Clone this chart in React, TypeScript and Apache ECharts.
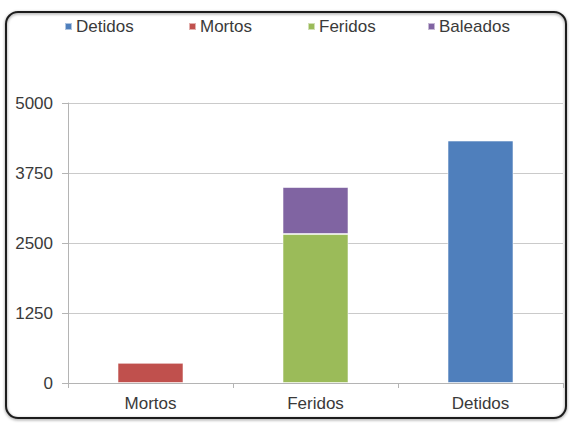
import React, { useEffect, useRef } from "react";
import * as echarts from "echarts";

const categories = ["Mortos", "Feridos", "Detidos"];
const legendNames = ["Detidos", "Mortos", "Feridos", "Baleados"];
const detidos = [null, null, 4330];
const mortos = [360, null, null];
const feridos = [null, 2660, null];
const baleados = [null, 840, null];
const yTicks = [0, 1250, 2500, 3750, 5000];

const colors: Record<string, string> = {
  Detidos: "#4f7fbc",
  Mortos: "#c0504d",
  Feridos: "#9bbb59",
  Baleados: "#8064a2",
};

const seriesData: Record<string, (number | null)[]> = {
  Detidos: detidos,
  Mortos: mortos,
  Feridos: feridos,
  Baleados: baleados,
};

const legendLefts = [64, 188, 307, 427];
const FONT = "'Liberation Sans', Arial, sans-serif";
const TEXT = "#3a3a3a";

export default function App() {
  const ref = useRef<HTMLDivElement>(null);
  useEffect(() => {
    if (!ref.current) return;
    const chart = echarts.init(ref.current, undefined, { renderer: "svg" });
    chart.setOption({
      animation: false,
      backgroundColor: "#ffffff",
      color: legendNames.map((n) => colors[n]),
      legend: legendNames.map((n, i) => ({
        data: [{ name: n, icon: "rect" }],
        left: legendLefts[i],
        top: 18,
        itemWidth: 7,
        itemHeight: 7,
        padding: 0,
        selectedMode: false,
        textStyle: { fontFamily: FONT, fontSize: 17, color: TEXT, padding: [0, 0, 0, -1] },
      })),
      graphic: [
        {
          type: "rect",
          shape: { x: 6, y: 12, width: 560, height: 406, r: 12 },
          style: {
            fill: "none",
            stroke: "#1e1e1e",
            lineWidth: 2,
            shadowBlur: 3,
            shadowColor: "rgba(0,0,0,0.45)",
            shadowOffsetY: 1,
          },
          silent: true,
          z: 0,
        },
      ],
      grid: { left: 68, right: 17, top: 103, bottom: 46, containLabel: false },
      xAxis: {
        type: "category",
        data: categories,
        axisLine: { lineStyle: { color: "#b4b4b4", width: 1 } },
        axisTick: { show: true, length: 5, lineStyle: { color: "#b4b4b4" } },
        axisLabel: { fontFamily: FONT, fontSize: 17, color: TEXT, margin: 12 },
      },
      yAxis: {
        type: "value",
        min: yTicks[0],
        max: yTicks[yTicks.length - 1],
        interval: 1250,
        axisLine: { show: true, lineStyle: { color: "#b4b4b4" } },
        axisTick: { show: true, length: 6, lineStyle: { color: "#b4b4b4" } },
        splitLine: { lineStyle: { color: "#cacaca" } },
        axisLabel: {
          fontFamily: FONT,
          fontSize: 17,
          color: TEXT,
          margin: 15,
          formatter: (v: number) => String(v),
        },
      },
      series: legendNames.map((n) => ({
        name: n,
        type: "bar",
        stack: "total",
        barWidth: "40%",
        data: seriesData[n].map((v) => (v === null ? "-" : v)),
        itemStyle: {
          color: colors[n],
          borderColor: "rgba(255,255,255,0.55)",
          borderWidth: 1,
        },
      })),
    });
    return () => chart.dispose();
  }, []);
  return <div ref={ref} style={{ width: 580, height: 429, position: "absolute", left: 0, top: 0 }} />;
}
